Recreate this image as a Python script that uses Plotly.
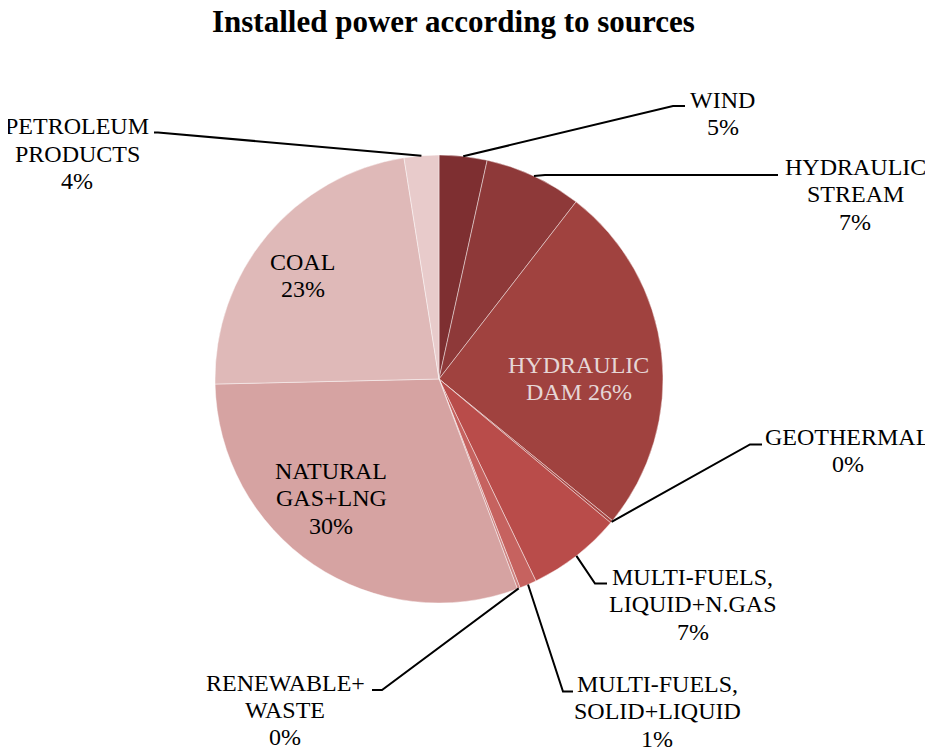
import math
import plotly.graph_objects as go

# ---- data ----
sources = ["WIND", "HYDRAULIC STREAM", "HYDRAULIC DAM", "GEOTHERMAL",
           "MULTI-FUELS, LIQUID+N.GAS", "MULTI-FUELS, SOLID+LIQUID",
           "RENEWABLE+ WASTE", "NATURAL GAS+LNG", "COAL", "PETROLEUM PRODUCTS"]
shares = [3.45, 7.03, 25.42, 0.2, 6.78, 1.23, 0.2, 30.33, 22.86, 2.5]
pct_labels = ["5%", "7%", "26%", "0%", "7%", "1%", "0%", "30%", "23%", "4%"]
colors = ["#7E2F31", "#8E3939", "#A0423F", "#A84744", "#B94C4A", "#C6625F",
          "#CE8482", "#D6A3A2", "#DFB9B8", "#E8CBCB"]

# page offset (browser body margin) compensation
OFF = 8
W, H = 933 - OFF, 751 - OFF
CX, CY, R = 439, 379, 224
FONT = "Liberation Serif, Times New Roman, serif"
FS = 24
LS = 27.3


def px(x):
    return (x - OFF) / W


def py(y):
    return 1 - (y - OFF) / H


fig = go.Figure(go.Pie(
    labels=sources, values=shares, sort=False, direction="clockwise",
    rotation=0, textinfo="none", hoverinfo="label+percent",
    marker=dict(colors=colors, line=dict(color="rgba(255,255,255,0.55)", width=0.8)),
    domain=dict(x=[px(CX - R), px(CX + R)], y=[py(CY + R), py(CY - R)]),
    showlegend=False,
))

# label layout: (slice index, lines, center x, first-line y, color, elbow points)
labels_layout = [
    (0, ["WIND", pct_labels[0]], 722.5, 100, "black", [(673, 106), (685, 106)]),
    (1, ["HYDRAULIC", "STREAM", pct_labels[1]], 855, 167, "black", [(545, 175), (778, 175)]),
    (2, ["HYDRAULIC", "DAM " + pct_labels[2]], 578.5, 365, "#E6D6D6", None),
    (3, ["GEOTHERMAL", pct_labels[3]], 847.5, 437, "black", [(750, 444.5), (762, 444.5)]),
    (4, ["MULTI-FUELS,", "LIQUID+N.GAS", pct_labels[4]], 692.5, 577, "black", [(595, 583.5), (607, 583.5)]),
    (5, ["MULTI-FUELS,", "SOLID+LIQUID", pct_labels[5]], 657, 684, "black", [(563, 691.5), (573, 691.5)]),
    (6, ["RENEWABLE+", "WASTE", pct_labels[6]], 285, 682.5, "black", [(382, 690), (372, 690)]),
    (7, ["NATURAL", "GAS+LNG", pct_labels[7]], 331, 471, "black", None),
    (8, ["COAL", pct_labels[8]], 302.5, 262, "black", None),
    (9, ["PETROLEUM", "PRODUCTS", pct_labels[9]], 77, 126.5, "black", [(158, 132.5), (154, 132.5)]),
]

total = sum(shares)
cum = [0]
for v in shares:
    cum.append(cum[-1] + v)

annotations = []
shapes = []
for idx, lines, lx, ly, col, elbow in labels_layout:
    for k, t in enumerate(lines):
        annotations.append(dict(
            x=px(lx), y=py(ly + k * LS), xref="paper", yref="paper",
            text=t, showarrow=False, xanchor="center", yanchor="middle",
            font=dict(family=FONT, size=FS, color=col)))
    if elbow:
        mid = (cum[idx] + shares[idx] / 2) / total * 2 * math.pi
        sx = CX + R * math.sin(mid)
        sy = CY - R * math.cos(mid)
        pts = [(sx, sy)] + elbow
        path = "M " + " L ".join(f"{px(a):.5f},{py(b):.5f}" for a, b in pts)
        shapes.append(dict(type="path", path=path, xref="paper", yref="paper",
                           line=dict(color="black", width=2)))

annotations.append(dict(
    x=px(453), y=py(22), xref="paper", yref="paper",
    text="<b>Installed power according to sources</b>", showarrow=False,
    xanchor="center", yanchor="middle",
    font=dict(family=FONT, size=31, color="black")))

fig.update_layout(
    width=W, height=H, margin=dict(l=0, r=0, t=0, b=0),
    paper_bgcolor="white", plot_bgcolor="white",
    annotations=annotations, shapes=shapes,
)

fig.write_html("out.html")
